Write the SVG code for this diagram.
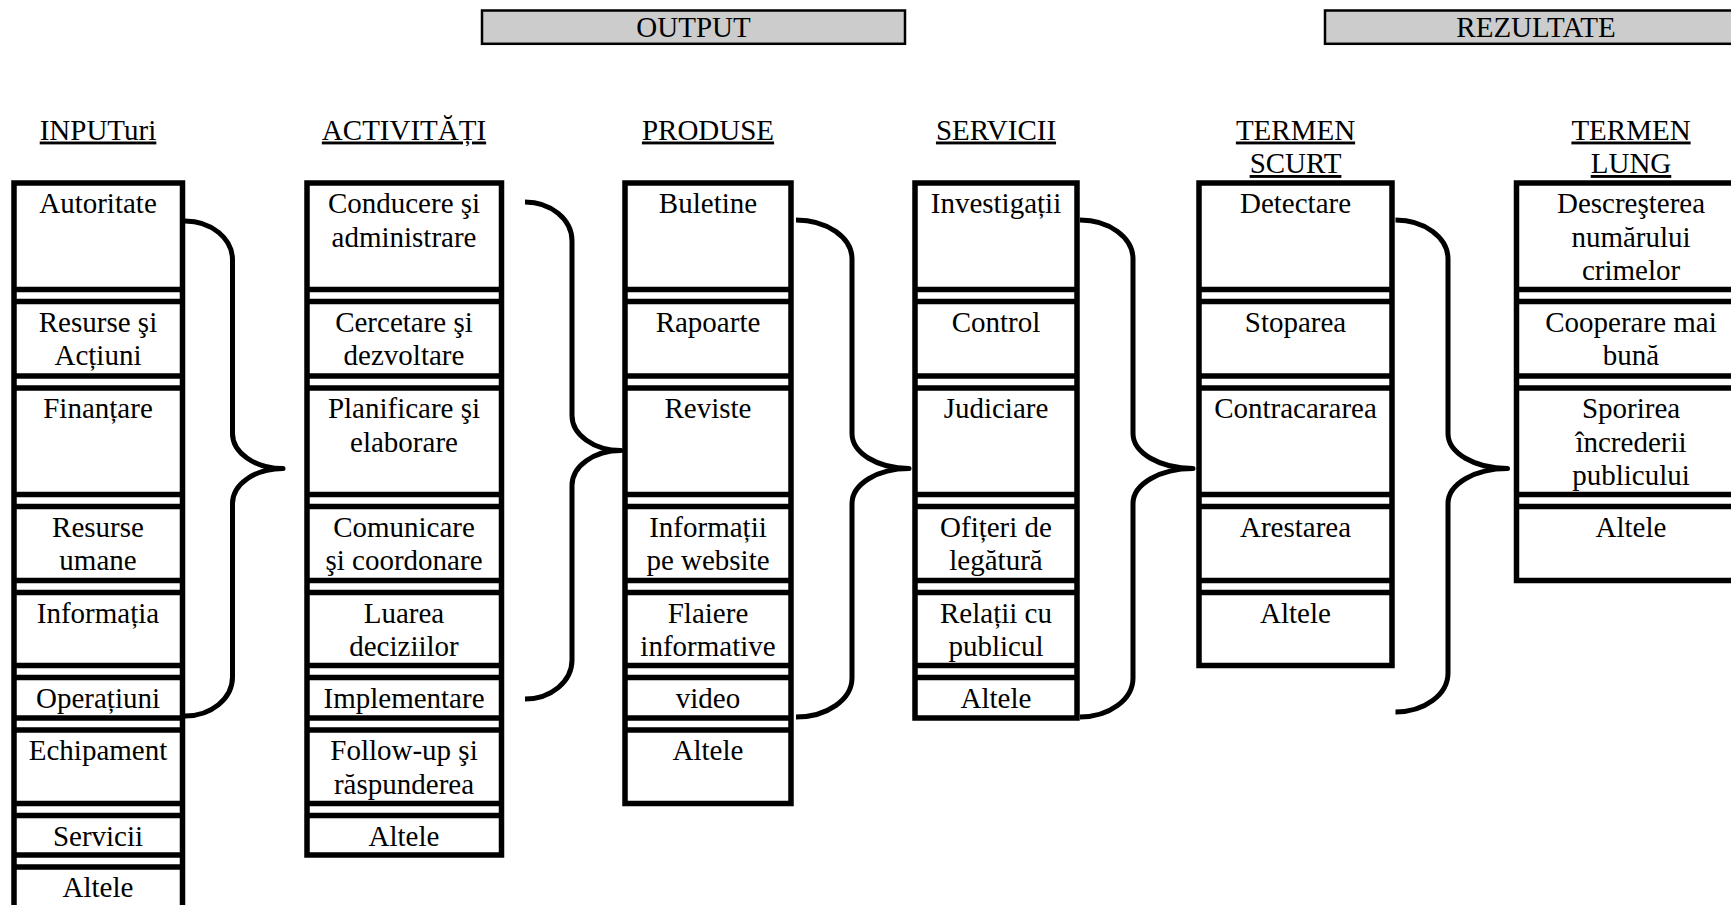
<svg xmlns="http://www.w3.org/2000/svg" width="1731" height="905" viewBox="0 0 1731 905">
<style>
  text { font-family: "Liberation Serif", "Times New Roman", serif; font-size: 29px; fill: #000; text-anchor: middle; }
  .hdr { text-decoration: underline; }
  .grid { fill: none; stroke: #000; stroke-width: 5.5; stroke-linecap: butt; }
  .band { fill: #cccccc; stroke: #000; stroke-width: 2.5; }
  .brace { fill: none; stroke: #000; stroke-width: 5; stroke-linejoin: round; stroke-linecap: butt; }
</style>
<rect width="1731" height="905" fill="#fff"/>

<g id="band-output">
  <rect class="band" x="482" y="10.5" width="423" height="33.3"/>
  <text x="693.5" y="37">OUTPUT</text>
</g>
<g id="band-rezultate">
  <rect class="band" x="1325" y="10.5" width="460" height="33.3"/>
  <text x="1536" y="37">REZULTATE</text>
</g>

<g id="col-inputuri">
  <text class="hdr" x="98" y="139.5">INPUTuri</text>
  <path class="grid" d="M14,180.25V905 M182.5,180.25V905 M14,183H182.5 M14,289.5H182.5 M14,301.5H182.5 M14,376H182.5 M14,388H182.5 M14,494.5H182.5 M14,506.5H182.5 M14,580.5H182.5 M14,592.5H182.5 M14,665.5H182.5 M14,677.5H182.5 M14,718H182.5 M14,730H182.5 M14,803.5H182.5 M14,815.5H182.5 M14,855H182.5 M14,867H182.5"/>
  <text x="98" y="213">Autoritate</text>
  <text x="98" y="331.5">Resurse şi</text>
  <text x="98" y="365">Acțiuni</text>
  <text x="98" y="418">Finanțare</text>
  <text x="98" y="536.5">Resurse</text>
  <text x="98" y="570">umane</text>
  <text x="98" y="622.5">Informația</text>
  <text x="98" y="707.5">Operațiuni</text>
  <text x="98" y="760">Echipament</text>
  <text x="98" y="845.5">Servicii</text>
  <text x="98" y="897">Altele</text>
</g>

<g id="col-activitati">
  <text class="hdr" x="404" y="139.5">ACTIVITĂȚI</text>
  <path class="grid" d="M307,180.25V857.75 M501.5,180.25V857.75 M307,183H501.5 M307,289.5H501.5 M307,301.5H501.5 M307,376H501.5 M307,388H501.5 M307,494.5H501.5 M307,506.5H501.5 M307,580.5H501.5 M307,592.5H501.5 M307,665.5H501.5 M307,677.5H501.5 M307,718H501.5 M307,730H501.5 M307,803.5H501.5 M307,815.5H501.5 M307,855H501.5"/>
  <text x="404" y="213">Conducere şi</text>
  <text x="404" y="246.5">administrare</text>
  <text x="404" y="331.5">Cercetare şi</text>
  <text x="404" y="365">dezvoltare</text>
  <text x="404" y="418">Planificare şi</text>
  <text x="404" y="451.5">elaborare</text>
  <text x="404" y="536.5">Comunicare</text>
  <text x="404" y="570">şi coordonare</text>
  <text x="404" y="622.5">Luarea</text>
  <text x="404" y="656">deciziilor</text>
  <text x="404" y="707.5">Implementare</text>
  <text x="404" y="760">Follow-up şi</text>
  <text x="404" y="793.5">răspunderea</text>
  <text x="404" y="845.5">Altele</text>
</g>

<g id="col-produse">
  <text class="hdr" x="708" y="139.5">PRODUSE</text>
  <path class="grid" d="M625,180.25V806.25 M791,180.25V806.25 M625,183H791 M625,289.5H791 M625,301.5H791 M625,376H791 M625,388H791 M625,494.5H791 M625,506.5H791 M625,580.5H791 M625,592.5H791 M625,665.5H791 M625,677.5H791 M625,718H791 M625,730H791 M625,803.5H791"/>
  <text x="708" y="213">Buletine</text>
  <text x="708" y="331.5">Rapoarte</text>
  <text x="708" y="418">Reviste</text>
  <text x="708" y="536.5">Informații</text>
  <text x="708" y="570">pe website</text>
  <text x="708" y="622.5">Flaiere</text>
  <text x="708" y="656">informative</text>
  <text x="708" y="707.5">video</text>
  <text x="708" y="760">Altele</text>
</g>

<g id="col-servicii">
  <text class="hdr" x="996" y="139.5">SERVICII</text>
  <path class="grid" d="M915,180.25V720.75 M1077,180.25V720.75 M915,183H1077 M915,289.5H1077 M915,301.5H1077 M915,376H1077 M915,388H1077 M915,494.5H1077 M915,506.5H1077 M915,580.5H1077 M915,592.5H1077 M915,665.5H1077 M915,677.5H1077 M915,718H1077"/>
  <text x="996" y="213">Investigații</text>
  <text x="996" y="331.5">Control</text>
  <text x="996" y="418">Judiciare</text>
  <text x="996" y="536.5">Ofițeri de</text>
  <text x="996" y="570">legătură</text>
  <text x="996" y="622.5">Relații cu</text>
  <text x="996" y="656">publicul</text>
  <text x="996" y="707.5">Altele</text>
</g>

<g id="col-termen-scurt">
  <text class="hdr" x="1295.5" y="139.5">TERMEN</text>
  <text class="hdr" x="1295.5" y="173">SCURT</text>
  <path class="grid" d="M1199,180.25V668.25 M1392,180.25V668.25 M1199,183H1392 M1199,289.5H1392 M1199,301.5H1392 M1199,376H1392 M1199,388H1392 M1199,494.5H1392 M1199,506.5H1392 M1199,580.5H1392 M1199,592.5H1392 M1199,665.5H1392"/>
  <text x="1295.5" y="213">Detectare</text>
  <text x="1295.5" y="331.5">Stoparea</text>
  <text x="1295.5" y="418">Contracararea</text>
  <text x="1295.5" y="536.5">Arestarea</text>
  <text x="1295.5" y="622.5">Altele</text>
</g>

<g id="col-termen-lung">
  <text class="hdr" x="1631" y="139.5">TERMEN</text>
  <text class="hdr" x="1631" y="173">LUNG</text>
  <path class="grid" d="M1516.5,180.25V583.25 M1746,180.25V583.25 M1516.5,183H1746 M1516.5,289.5H1746 M1516.5,301.5H1746 M1516.5,376H1746 M1516.5,388H1746 M1516.5,494.5H1746 M1516.5,506.5H1746 M1516.5,580.5H1746"/>
  <text x="1631" y="213">Descreşterea</text>
  <text x="1631" y="246.5">numărului</text>
  <text x="1631" y="280">crimelor</text>
  <text x="1631" y="331.5">Cooperare mai</text>
  <text x="1631" y="365">bună</text>
  <text x="1631" y="418">Sporirea</text>
  <text x="1631" y="451.5">încrederii</text>
  <text x="1631" y="485">publicului</text>
  <text x="1631" y="536.5">Altele</text>
</g>

<g id="connectors">
  <path class="brace" d="M185,221 A47.5,39 0 0 1 232.5,260 V433.5 A50.5,35 0 0 0 283,468.5 A50.5,35 0 0 0 232.5,503.5 V677 A47.5,39 0 0 1 185,716"/>
  <path class="brace" d="M525,202 A47,39 0 0 1 572,241 V415.5 A49,35 0 0 0 621,450.5 A49,35 0 0 0 572,485.5 V660 A47,39 0 0 1 525,699"/>
  <path class="brace" d="M796,220 A56,39 0 0 1 852,259 V433.5 A57,35 0 0 0 909,468.5 A57,35 0 0 0 852,503.5 V678 A56,39 0 0 1 796,717"/>
  <path class="brace" d="M1080,220 A53,39 0 0 1 1133,259 V433.5 A60,35 0 0 0 1193,468.5 A60,35 0 0 0 1133,503.5 V678 A53,39 0 0 1 1080,717"/>
  <path class="brace" d="M1395.5,220 A52.5,39 0 0 1 1448,259 V433.5 A59.5,35 0 0 0 1507.5,468.5 A59.5,35 0 0 0 1448,503.5 V673 A52.5,39 0 0 1 1395.5,712"/>
</g>
</svg>
